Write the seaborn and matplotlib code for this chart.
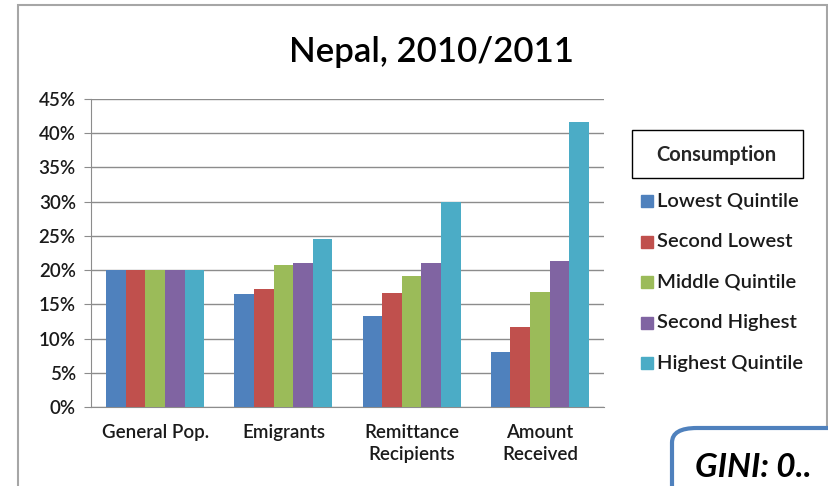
import matplotlib
matplotlib.use("Agg")
import matplotlib.pyplot as plt
import seaborn as sns
import pandas as pd
from matplotlib.patches import Rectangle, FancyBboxPatch
from matplotlib.ticker import FuncFormatter

# Data (shares, in %)
categories = ["General Pop.", "Emigrants", "Remittance\nRecipients", "Amount\nReceived"]
quintiles = ["Lowest Quintile", "Second Lowest", "Middle Quintile",
             "Second Highest", "Highest Quintile"]
lowest = [20.0, 16.5, 13.3, 8.1]
second_lowest = [20.0, 17.2, 16.6, 11.7]
middle = [20.0, 20.8, 19.2, 16.8]
second_highest = [20.0, 21.0, 21.0, 21.3]
highest = [20.0, 24.5, 30.0, 41.7]
colors = ["#4F81BD", "#C0504D", "#9BBB59", "#8064A2", "#4BACC6"]

series = [lowest, second_lowest, middle, second_highest, highest]
rows = []
for q, vals in zip(quintiles, series):
    for c, v in zip(categories, vals):
        rows.append({"category": c, "quintile": q, "value": v})
df = pd.DataFrame(rows)

sns.set_style("white")
plt.rcParams["font.family"] = ["Lato", "DejaVu Sans"]
txt = "#1a1a1a"

fig = plt.figure(figsize=(8.29, 4.86), dpi=100)
ax = fig.add_axes([0.1098, 0.1626, 0.6188, 0.6337])

sns.barplot(data=df, x="category", y="value", hue="quintile", order=categories,
            hue_order=quintiles, palette=colors, width=0.765, saturation=1,
            linewidth=0, legend=False, ax=ax, zorder=3)

ax.set_ylim(0, 45)
ax.set_xlim(-0.5, 3.5)
ax.set_yticks(range(0, 50, 5))
ax.yaxis.set_major_formatter(FuncFormatter(lambda v, _: f"{v:.0f}%"))
ax.grid(axis="y", color="#8c8c8c", linewidth=1, zorder=0)
ax.set_xlabel("")
ax.set_ylabel("")

ax.set_xticks(range(len(categories)))
ax.set_xticklabels(categories, fontsize=13.5, color=txt, linespacing=1.35,
                   fontweight="semibold")
ax.tick_params(axis="x", length=0, pad=12)
ax.set_xticks([i - 0.5 for i in range(len(categories) + 1)], minor=True)
ax.tick_params(axis="x", which="minor", length=5, color="#8c8c8c", direction="out")
ax.tick_params(axis="y", length=5, color="#8c8c8c", direction="out", left=True,
               labelsize=13.5, labelcolor=txt, pad=6)
for lab in ax.get_yticklabels():
    lab.set_fontweight("semibold")

for side in ["top", "right"]:
    ax.spines[side].set_visible(False)
ax.spines["left"].set_color("#8c8c8c")
ax.spines["bottom"].set_color("#8c8c8c")

fig.text(0.521, 0.893, "Nepal, 2010/2011", ha="center", va="center",
         fontsize=25, color="black", fontweight="semibold")

# outer chart border
fig.patches.append(Rectangle((18 / 829, -0.1), 809 / 829, 1 - 5 / 486 + 0.1,
                             transform=fig.transFigure, fill=False,
                             edgecolor="#a6a6a6", linewidth=1.5))

# legend title box
fig.patches.append(Rectangle((632 / 829, 1 - 178 / 486), 171 / 829, 48 / 486,
                             transform=fig.transFigure, fill=False,
                             edgecolor="black", linewidth=1))
fig.text(716 / 829, 1 - 155 / 486, "Consumption", ha="center", va="center",
         fontsize=14.5, fontweight="bold")

# legend entries
for i, (q, col) in enumerate(zip(quintiles, colors)):
    y = 201 + 40.5 * i
    fig.patches.append(Rectangle((641 / 829, 1 - (y + 6) / 486), 12 / 829, 12 / 486,
                                 transform=fig.transFigure, color=col))
    fig.text(657 / 829, 1 - y / 486, q, ha="left", va="center", fontsize=14.5,
             fontweight="semibold", color=txt)

# GINI box (cut by the image edge)
fig.patches.append(FancyBboxPatch((672 / 829, -0.2), 0.3, 1 - 428 / 486 + 0.2,
                                  boxstyle="round,pad=0,rounding_size=0.03",
                                  transform=fig.transFigure, facecolor="white",
                                  edgecolor="#4F81BD", linewidth=3))
fig.text(695 / 829, 1 - 477 / 486, "GINI: 0..", ha="left", va="baseline",
         fontsize=24, fontweight="bold", fontstyle="italic", color="black")

fig.savefig("out.png", dpi=100)
